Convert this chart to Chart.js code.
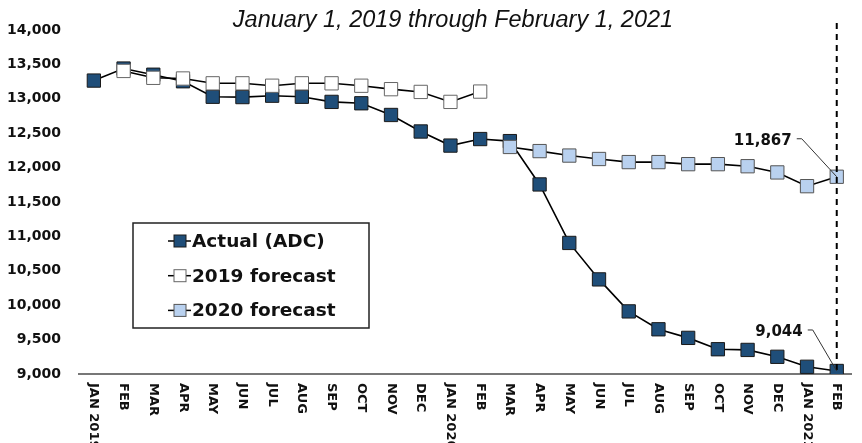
<!DOCTYPE html>
<html>
<head>
<meta charset="utf-8">
<script src="https://cdn.jsdelivr.net/npm/chart.js@4.4.1/dist/chart.umd.min.js"></script>
<style>
body { margin: 0; background: #fff; }
</style>
</head>
<body>
<canvas id="canvas" width="862" height="443"></canvas>
<script>
var months = ['JAN 2019', 'FEB', 'MAR', 'APR', 'MAY', 'JUN', 'JUL', 'AUG', 'SEP', 'OCT', 'NOV', 'DEC',
	'JAN 2020', 'FEB', 'MAR', 'APR', 'MAY', 'JUN', 'JUL', 'AUG', 'SEP', 'OCT', 'NOV', 'DEC',
	'JAN 2021', 'FEB'];
var actual = [13265, 13440, 13350, 13255, 13030, 13025, 13045, 13030, 12955, 12935, 12765, 12525,
	12320, 12415, 12385, 11755, 10905, 10375, 9910, 9650, 9525, 9360, 9350, 9250, 9105, 9044];
var forecast2019 = [null, 13405, 13305, 13295, 13225, 13225, 13190, 13225, 13225, 13190, 13140, 13100,
	12955, 13105, null, null, null, null, null, null, null, null, null, null, null, null];
var forecast2020 = [null, null, null, null, null, null, null, null, null, null, null, null,
	null, null, 12300, 12240, 12175, 12125, 12080, 12080, 12050, 12050, 12020, 11930, 11730, 11867];
var yTicks = [9000, 9500, 10000, 10500, 11000, 11500, 12000, 12500, 13000, 13500, 14000];
var seriesNames = ['Actual (ADC)', '2019 forecast', '2020 forecast'];
var title = 'January 1, 2019 through February 1, 2021';

function fmt(v) {
	return v.toLocaleString('en-US');
}

// title, rotated month labels, dashed line, value callouts and the boxed legend
var extras = {
	id: 'extras',
	afterDraw: function(chart) {
		var ctx = chart.ctx;
		var xs = chart.scales.x;
		var ys = chart.scales.y;
		var area = chart.chartArea;
		ctx.save();

		ctx.fillStyle = '#111';
		ctx.font = 'italic 23.5px "Liberation Sans", Arial, sans-serif';
		ctx.textAlign = 'center';
		ctx.textBaseline = 'alphabetic';
		ctx.fillText(title, 453, 27);

		ctx.font = 'bold 13px "DejaVu Sans", sans-serif';
		months.forEach(function(m, i) {
			ctx.save();
			ctx.translate(xs.getPixelForValue(i), area.bottom + 9);
			ctx.rotate(Math.PI / 2);
			ctx.textAlign = 'left';
			ctx.textBaseline = 'middle';
			ctx.fillText(m, 0, 0);
			ctx.restore();
		});

		var last = months.length - 1;
		var lx = xs.getPixelForValue(last);
		ctx.strokeStyle = '#000';
		ctx.lineWidth = 2;
		ctx.setLineDash([6, 5]);
		ctx.beginPath();
		ctx.moveTo(lx, 23);
		ctx.lineTo(lx, area.bottom);
		ctx.stroke();
		ctx.setLineDash([]);

		// callouts
		ctx.font = 'bold 15px "DejaVu Sans", sans-serif';
		ctx.textAlign = 'right';
		ctx.textBaseline = 'middle';
		ctx.lineWidth = 1;
		ctx.strokeStyle = '#333';
		var callouts = [
			{v: forecast2020[last], dx: -45, dy: -36},
			{v: actual[last], dx: -34, dy: -39}
		];
		callouts.forEach(function(c) {
			var py = ys.getPixelForValue(c.v);
			ctx.fillText(fmt(c.v), lx + c.dx, py + c.dy);
			ctx.beginPath();
			ctx.moveTo(lx + c.dx + 5, py + c.dy - 2);
			ctx.lineTo(lx + c.dx + 10, py + c.dy - 2);
			ctx.lineTo(lx, py);
			ctx.stroke();
		});

		// legend box
		ctx.strokeStyle = '#222';
		ctx.lineWidth = 1.5;
		ctx.strokeRect(133, 223, 236, 105);
		ctx.font = 'bold 18.5px "DejaVu Sans", sans-serif';
		ctx.textAlign = 'left';
		chart.data.datasets.forEach(function(ds, i) {
			var ry = 241 + i * 34.7;
			ctx.strokeStyle = '#000';
			ctx.lineWidth = 1.5;
			ctx.beginPath();
			ctx.moveTo(168, ry);
			ctx.lineTo(191, ry);
			ctx.stroke();
			ctx.fillStyle = ds.pointBackgroundColor;
			ctx.fillRect(174, ry - 6, 12, 12);
			ctx.strokeStyle = ds.pointBorderColor;
			ctx.lineWidth = 1;
			ctx.strokeRect(174, ry - 6, 12, 12);
			ctx.fillStyle = '#111';
			ctx.fillText(ds.label, 192, ry + 1);
		});

		ctx.restore();
	}
};

const ctx = document.getElementById('canvas').getContext('2d');

const myChart = new Chart(ctx, {
	type: 'line',
	data: {
		labels: months,
		datasets: [{
			label: seriesNames[0],
			data: actual,
			order: 3,
			borderColor: '#000',
			borderWidth: 1.6,
			pointStyle: 'rect',
			pointRadius: 9.4,
			pointBorderWidth: 1,
			pointBackgroundColor: '#1F4E79',
			pointBorderColor: '#1a1a1a'
		}, {
			label: seriesNames[1],
			data: forecast2019,
			order: 2,
			borderColor: '#000',
			borderWidth: 1.6,
			pointStyle: 'rect',
			pointRadius: 9.4,
			pointBorderWidth: 1,
			pointBackgroundColor: '#FFFFFF',
			pointBorderColor: '#666'
		}, {
			label: seriesNames[2],
			data: forecast2020,
			order: 1,
			borderColor: '#000',
			borderWidth: 1.6,
			pointStyle: 'rect',
			pointRadius: 9.4,
			pointBorderWidth: 1,
			pointBackgroundColor: '#B9D1EF',
			pointBorderColor: '#555'
		}]
	},
	options: {
		responsive: false,
		animation: false,
		layout: {
			padding: {top: 30, right: 0, bottom: 0, left: 0}
		},
		plugins: {
			legend: {display: false},
			tooltip: {enabled: false},
			title: {display: false}
		},
		scales: {
			x: {
				offset: true,
				grid: {display: false, drawTicks: false},
				border: {display: true, color: '#777', width: 2},
				ticks: {display: false},
				afterFit: function(scale) {
					scale.height = 69;
				}
			},
			y: {
				min: 9000,
				max: 14000,
				grid: {display: false, drawTicks: false},
				border: {display: false},
				afterBuildTicks: function(scale) {
					scale.ticks = yTicks.map(function(v) { return {value: v}; });
				},
				afterFit: function(scale) {
					scale.width = 79;
				},
				ticks: {
					padding: 18,
					color: '#111',
					font: {family: '"DejaVu Sans"', size: 14, weight: 'bold'},
					callback: function(value) {
						return fmt(value);
					}
				}
			}
		}
	},
	plugins: [extras]
});
</script>
</body>
</html>
